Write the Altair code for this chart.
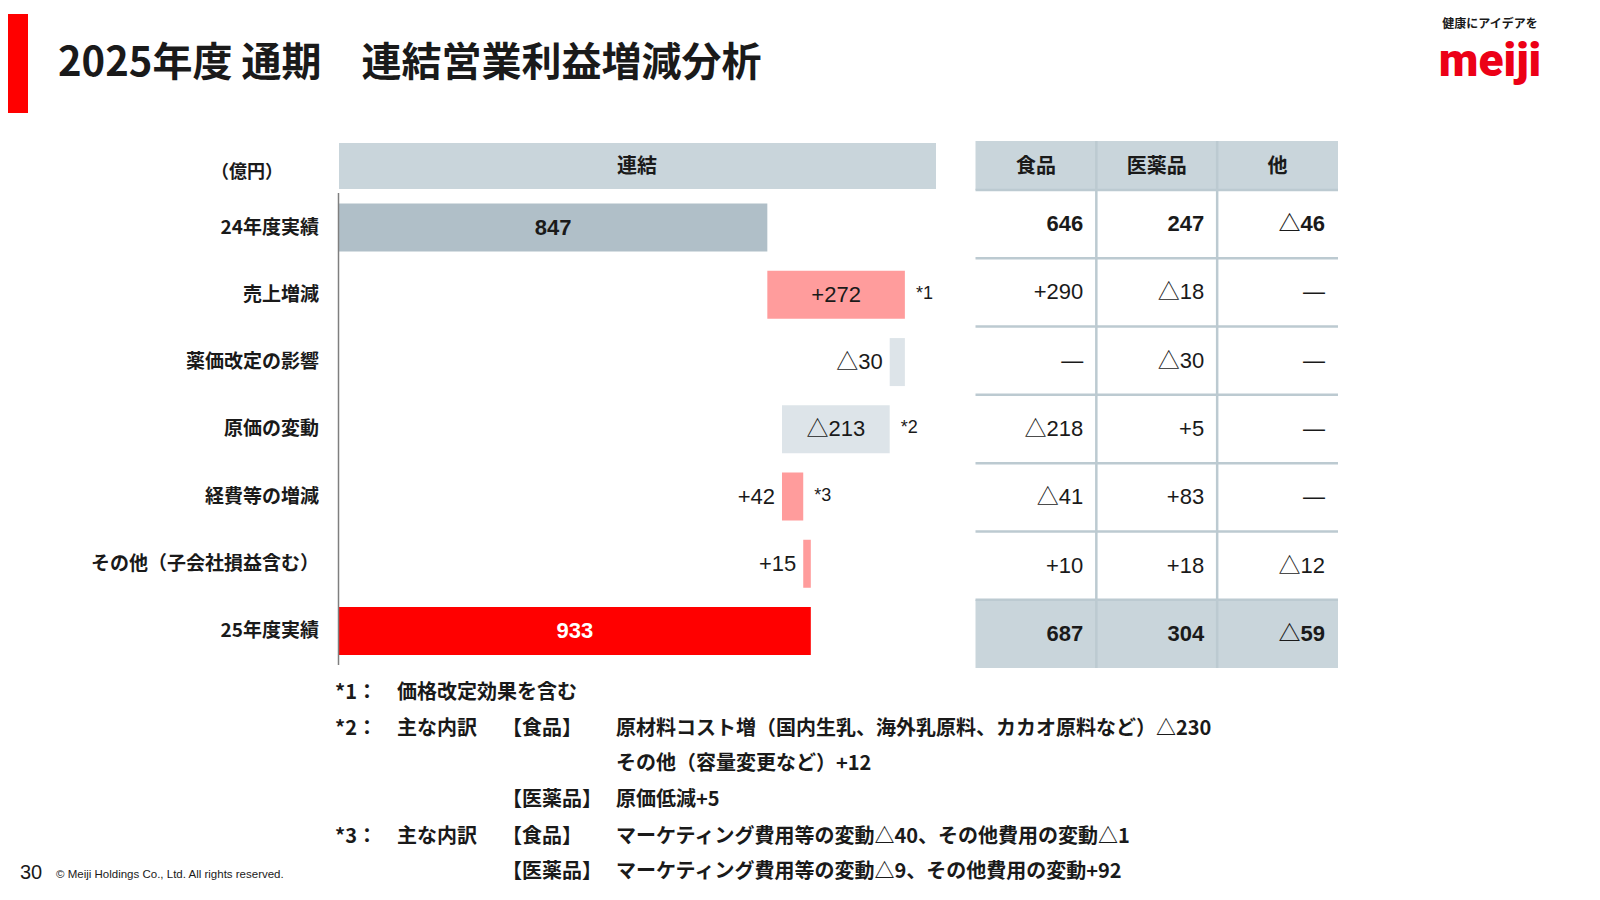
import altair as alt
import pandas as pd

# ---------------- data ----------------
categories = ["24年度実績", "売上増減", "薬価改定の影響", "原価の変動",
              "経費等の増減", "その他（子会社損益含む）", "25年度実績"]
values = [847, 272, -30, -213, 42, 15, 933]
kinds = ["prev", "up", "down", "down", "up", "up", "curr"]
bar_labels = ["847", "+272", "△30", "△213", "+42", "+15", "933"]
notes = ["", "*1", "", "*2", "*3", "", ""]

seg_cols = ["食品", "医薬品", "他"]
food = ["646", "+290", "—", "△218", "△41", "+10", "687"]
pharma = ["247", "△18", "△30", "+5", "+83", "+18", "304"]
other = ["△46", "—", "—", "—", "—", "△12", "△59"]

title_text = "2025年度 通期　連結営業利益増減分析"
unit_text = "（億円）"
panel_title = "連結"
tagline = "健康にアイデアを"
logo = "meiji"
page_no = "30"
copyright_text = "© Meiji Holdings Co., Ltd. All rights reserved."

footnotes = [
    ["*1：", "価格改定効果を含む", "", ""],
    ["*2：", "主な内訳", "【食品】", "原材料コスト増（国内生乳、海外乳原料、カカオ原料など）△230"],
    ["", "", "", "その他（容量変更など）+12"],
    ["", "", "【医薬品】", "原価低減+5"],
    ["*3：", "主な内訳", "【食品】", "マーケティング費用等の変動△40、その他費用の変動△1"],
    ["", "", "【医薬品】", "マーケティング費用等の変動△9、その他費用の変動+92"],
]

# ---------------- derived tables ----------------
rows = []
running = 0
for cat, v, k, lab, nt in zip(categories, values, kinds, bar_labels, notes):
    if k in ("prev", "curr"):
        lo, hi = 0, v
        running = v
    else:
        new = running + v
        lo, hi = min(running, new), max(running, new)
        running = new
    inside = (hi - lo) >= 100
    rows.append(dict(cat=cat, lo=lo, hi=hi, mid=(lo + hi) / 2, kind=k,
                     label=lab, note=nt, inside=inside,
                     total=k in ("prev", "curr")))
bars = pd.DataFrame(rows)

cells = []
for i, cat in enumerate(categories):
    for j, (col, arr) in enumerate(zip(seg_cols, [food, pharma, other])):
        cells.append(dict(cat=cat, col=col, ci=j, label=arr[i],
                          bold=(i == 0 or i == len(categories) - 1)))
cells = pd.DataFrame(cells)

JP = "Noto Sans CJK JP"
NUM = "Liberation Sans, Arial, Noto Sans CJK JP"
HEAD = "#c9d5db"
LINE = "#bccad1"
INK = "#1a1a1a"

xs = alt.Scale(domain=[0, 1000], range=[331, 836.7])
ys = alt.Scale(domain=categories, range=[186, 656.6], paddingInner=0, paddingOuter=0)
tys = alt.Scale(domain=categories, range=[182, 660], paddingInner=0, paddingOuter=0)
txs = alt.Scale(domain=seg_cols, range=[967.5, 1330], paddingInner=0, paddingOuter=0)
tqs = alt.Scale(domain=[0, 3], range=[967.5, 1330])
color_scale = alt.Scale(domain=["prev", "up", "down", "curr"],
                        range=["#b0bfc8", "#ff9c9c", "#dde4e9", "#ff0000"])


def txt(s, x, y, size, weight="normal", align="left", font=JP, color=INK):
    return alt.Chart(pd.DataFrame({"t": [s]})).mark_text(
        align=align, baseline="middle", fontSize=size, fontWeight=weight,
        font=font, color=color
    ).encode(text="t:N", x=alt.value(x), y=alt.value(y))


layers = []

# slide decorations
layers.append(alt.Chart(pd.DataFrame({"t": [0]})).mark_rect(color="#ff0000").encode(
    x=alt.value(0), x2=alt.value(20), y=alt.value(6), y2=alt.value(105)))
layers.append(txt(title_text, 50, 56, 40, "bold"))
layers.append(txt(tagline, 1482, 16, 12, "bold", "center"))
layers.append(alt.Chart(pd.DataFrame({"t": [logo]})).mark_text(
    align="center", baseline="alphabetic", fontSize=46, fontWeight=900,
    font="Roboto", color="#ec0016"
).encode(text="t:N", x=alt.value(1482), y=alt.value(68)))

# headers
layers.append(alt.Chart(pd.DataFrame({"t": [0]})).mark_rect(color=HEAD).encode(
    x=alt.value(331), x2=alt.value(928), y=alt.value(135), y2=alt.value(181)))
layers.append(txt(panel_title, 629, 159, 20, "bold", "center"))
layers.append(txt(unit_text, 239, 165, 18, "bold", "center"))

hdr = pd.DataFrame({"col": seg_cols})
layers.append(alt.Chart(hdr).mark_rect(color=HEAD).encode(
    x=alt.X("col:N", scale=txs, axis=None), y=alt.value(133), y2=alt.value(182)))
layers.append(alt.Chart(cells[cells["cat"] == categories[-1]]).mark_rect(color=HEAD).encode(
    x=alt.X("col:N", scale=txs, axis=None),
    y=alt.Y("cat:N", scale=tys, axis=None)))
# table grid lines
layers.append(alt.Chart(pd.DataFrame({"cat": categories})).mark_rule(
    color=LINE, strokeWidth=2.5).encode(
    y=alt.Y("cat:N", scale=tys, axis=None, bandPosition=0),
    x=alt.value(967.5), x2=alt.value(1330)))
layers.append(alt.Chart(pd.DataFrame({"col": seg_cols[1:]})).mark_rule(
    color=LINE, strokeWidth=2.5).encode(
    x=alt.X("col:N", scale=txs, axis=None, bandPosition=0),
    y=alt.value(133), y2=alt.value(660)))
layers.append(alt.Chart(hdr).mark_text(
    fontSize=20, fontWeight="bold", font=JP, color=INK, baseline="middle").encode(
    text="col:N", x=alt.X("col:N", scale=txs, axis=None, bandPosition=0.5),
    y=alt.value(159)))
for is_bold in (True, False):
    layers.append(alt.Chart(cells[cells["bold"] == is_bold]).transform_calculate(
        right="datum.ci + 1").mark_text(
        fontSize=22, fontWeight="bold" if is_bold else "normal", font=NUM,
        color=INK, align="right", baseline="middle", dx=-13).encode(
        text="label:N",
        x=alt.X("right:Q", scale=tqs, axis=None),
        y=alt.Y("cat:N", scale=tys, axis=None)))

# waterfall
layers.append(alt.Chart(bars).mark_bar(height=48).encode(
    y=alt.Y("cat:N", scale=ys, axis=None),
    x=alt.X("lo:Q", scale=xs, axis=None), x2="hi:Q",
    color=alt.Color("kind:N", scale=color_scale, legend=None)))
layers.append(alt.Chart(pd.DataFrame({"t": [0]})).mark_rule(
    color="#7f7f7f", strokeWidth=1.5).encode(
    x=alt.value(330.5), y=alt.value(185), y2=alt.value(657)))
layers.append(alt.Chart(bars).mark_text(
    align="right", baseline="middle", fontSize=19, fontWeight="bold",
    font=JP, color=INK).encode(
    text="cat:N", x=alt.value(311), y=alt.Y("cat:N", scale=ys, axis=None)))
layers.append(alt.Chart(bars).transform_filter("datum.total").mark_text(
    baseline="middle", fontSize=22, fontWeight="bold", font=NUM).encode(
    text="label:N", x=alt.X("mid:Q", scale=xs, axis=None),
    y=alt.Y("cat:N", scale=ys, axis=None),
    color=alt.condition("datum.kind == 'curr'", alt.value("white"), alt.value(INK))))
layers.append(alt.Chart(bars).transform_filter("!datum.total && datum.inside").mark_text(
    baseline="middle", fontSize=22, font=NUM, color=INK).encode(
    text="label:N", x=alt.X("mid:Q", scale=xs, axis=None),
    y=alt.Y("cat:N", scale=ys, axis=None)))
layers.append(alt.Chart(bars).transform_filter("!datum.total && !datum.inside").mark_text(
    baseline="middle", align="right", dx=-7, fontSize=22, font=NUM, color=INK).encode(
    text="label:N", x=alt.X("lo:Q", scale=xs, axis=None),
    y=alt.Y("cat:N", scale=ys, axis=None)))
layers.append(alt.Chart(bars).transform_filter("datum.note != ''").mark_text(
    baseline="middle", align="left", dx=11, dy=-1, fontSize=18, font=NUM, color=INK).encode(
    text="note:N", x=alt.X("hi:Q", scale=xs, axis=None),
    y=alt.Y("cat:N", scale=ys, axis=None)))

# footnotes
fn_x = [327, 389, 494, 608]
fn_y = [685, 720.5, 756, 792, 828.5, 864]
for line, yy in zip(footnotes, fn_y):
    for s, xx in zip(line, fn_x):
        if s:
            layers.append(txt(s, xx, yy, 20, "bold"))

layers.append(txt(page_no, 12, 865, 20, "normal", font=NUM))
layers.append(txt(copyright_text, 48, 867, 11.5, "normal", font=NUM))

chart = alt.layer(*layers).resolve_scale(x="independent", y="independent").properties(
    width=1584, height=884, autosize=alt.AutoSizeParams(type="none"), padding=0,
    background="white"
).configure_view(stroke=None)

chart.save("out.html", embed_options={"renderer": "svg", "actions": False})
